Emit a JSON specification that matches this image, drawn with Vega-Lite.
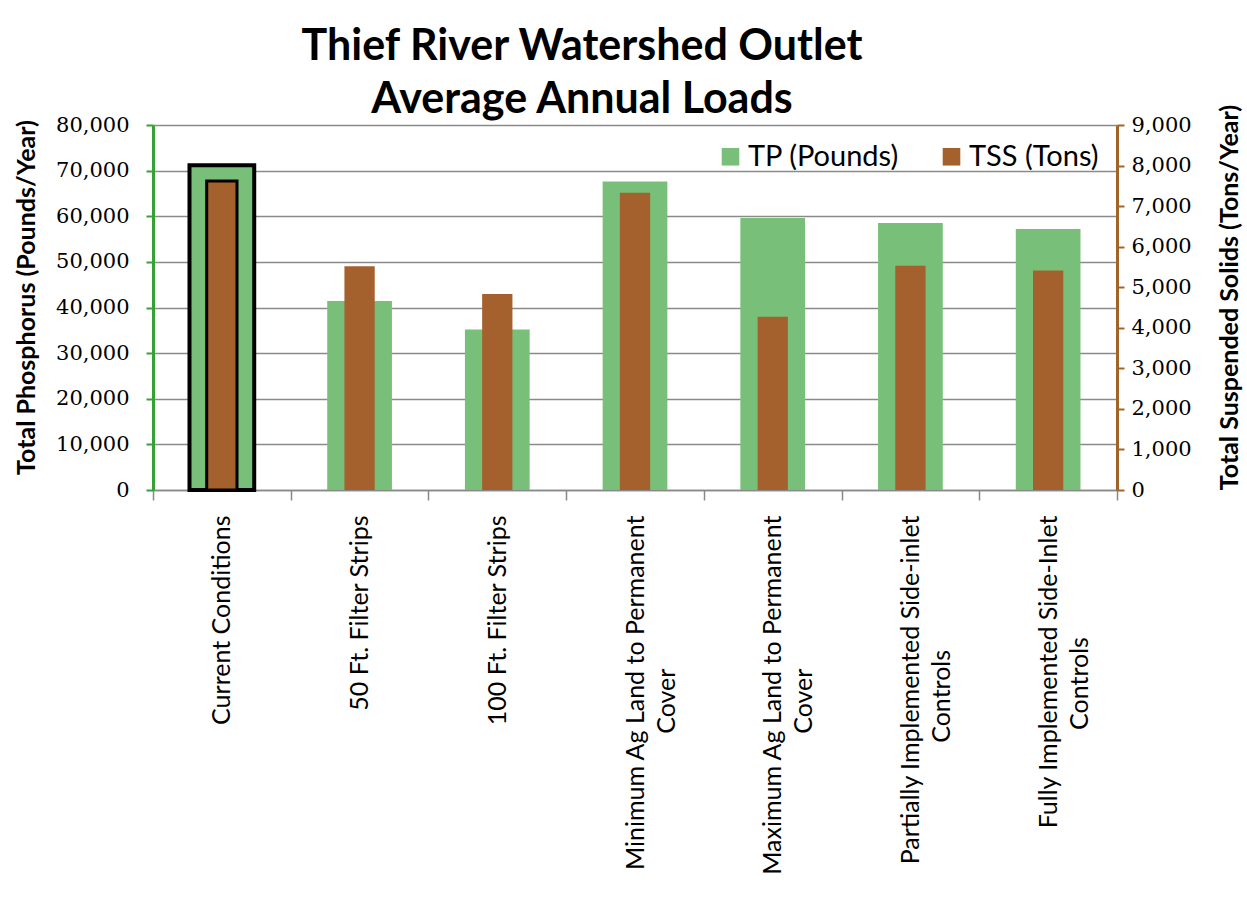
{
  "$schema": "https://vega.github.io/schema/vega-lite/v6.json",
  "width": 964,
  "height": 365,
  "autosize": {"type": "none"},
  "padding": {"left": 153, "top": 125, "right": 130, "bottom": 411},
  "background": "white",
  "title": {
    "text": ["Thief River Watershed Outlet", "Average Annual Loads"],
    "font": "Lato",
    "fontSize": 43,
    "fontWeight": "bold",
    "color": "black",
    "anchor": "middle",
    "frame": "group",
    "dx": -53,
    "lineHeight": 53,
    "offset": -18
  },
  "data": {
    "values": [
      {"Scenario": "Current Conditions", "TP": 71200, "TSS": 7620},
      {"Scenario": "50 Ft. Filter Strips", "TP": 41400, "TSS": 5520},
      {"Scenario": "100 Ft. Filter Strips", "TP": 35200, "TSS": 4830},
      {"Scenario": "Minimum Ag Land to Permanent Cover", "TP": 67600, "TSS": 7330},
      {"Scenario": "Maximum Ag Land to Permanent Cover", "TP": 59600, "TSS": 4270},
      {"Scenario": "Partially Implemented Side-inlet Controls", "TP": 58500, "TSS": 5530},
      {"Scenario": "Fully Implemented Side-Inlet Controls", "TP": 57200, "TSS": 5410}
    ]
  },
  "encoding": {
    "x": {
      "field": "Scenario",
      "type": "nominal",
      "sort": null,
      "scale": {"paddingInner": 0, "paddingOuter": 0},
      "axis": {
        "title": null,
        "labelAngle": -90,
        "labelFont": "Lato",
        "labelFontSize": 25,
        "labelLineHeight": 31,
        "labelColor": "black",
        "labelLimit": 0,
        "labelOverlap": false,
        "labelBaseline": "middle",
        "labelAlign": "right",
        "labelPadding": 15,
        "labelExpr": "length(datum.label) > 25 ? [slice(datum.label, 0, lastindexof(datum.label, ' ')), pad(slice(datum.label, lastindexof(datum.label, ' ') + 1), indexof(datum.label, 'Fully') == 0 ? 27 : 29, '\u00a0') + '\u200b'] : datum.label",
        "domainColor": "#888888",
        "domainWidth": 1.5,
        "tickColor": "#888888",
        "tickWidth": 1.5,
        "tickSize": 10,
        "tickBand": "extent"
      }
    }
  },
  "layer": [
    {
      "mark": {"type": "bar", "width": {"band": 0.47}, "strokeWidth": 4},
      "encoding": {
        "y": {
          "field": "TP",
          "type": "quantitative",
          "scale": {"domain": [0, 80000], "nice": false},
          "axis": {
            "orient": "left",
            "title": "Total Phosphorus (Pounds/Year)",
            "titleFont": "Lato",
            "titleFontSize": 25,
            "titleFontWeight": "bold",
            "titleColor": "black",
            "titlePadding": 16,
            "titleY": 172,
            "labelFont": "DejaVu Serif",
            "labelFontSize": 21,
            "labelColor": "black",
            "labelPadding": 17,
            "values": [0, 10000, 20000, 30000, 40000, 50000, 60000, 70000, 80000],
            "format": ",d",
            "domainColor": "#35a035",
            "domainWidth": 3,
            "tickColor": "#35a035",
            "tickWidth": 2,
            "tickSize": 7,
            "grid": true,
            "gridColor": "#8a8a8a",
            "gridWidth": 1.5
          }
        },
        "color": {
          "datum": "TP (Pounds)",
          "type": "nominal",
          "scale": {"domain": ["TP (Pounds)", "TSS (Tons)"], "range": ["#78c07a", "#a5612d"]},
          "legend": {
            "title": null,
            "orient": "none",
            "legendX": 563,
            "legendY": 17,
            "direction": "horizontal",
            "symbolType": "square",
            "symbolSize": 310,
            "symbolStrokeWidth": 0,
            "labelFont": "Lato",
            "labelFontSize": 29,
            "labelColor": "black",
            "labelOffset": 3,
            "columnPadding": 37
          }
        },
        "stroke": {"condition": {"test": "datum.Scenario === 'Current Conditions'", "value": "black"}, "value": "transparent"}
      }
    },
    {
      "mark": {"type": "bar", "width": {"band": 0.22}, "strokeWidth": 3},
      "encoding": {
        "y": {
          "field": "TSS",
          "type": "quantitative",
          "scale": {"domain": [0, 9000], "nice": false},
          "axis": {
            "orient": "right",
            "title": "Total Suspended Solids (Tons/Year)",
            "titleFont": "Lato",
            "titleFontSize": 25,
            "titleFontWeight": "bold",
            "titleColor": "black",
            "titleAngle": -90,
            "titleBaseline": "top",
            "titlePadding": 26,
            "titleY": 172,
            "labelFont": "DejaVu Serif",
            "labelFontSize": 21,
            "labelColor": "black",
            "labelPadding": 7,
            "values": [0, 1000, 2000, 3000, 4000, 5000, 6000, 7000, 8000, 9000],
            "format": ",d",
            "domainColor": "#a0642a",
            "domainWidth": 3,
            "tickColor": "#a0642a",
            "tickWidth": 2,
            "tickSize": 7,
            "grid": false
          }
        },
        "color": {"datum": "TSS (Tons)", "type": "nominal"},
        "stroke": {"condition": {"test": "datum.Scenario === 'Current Conditions'", "value": "black"}, "value": "transparent"}
      }
    }
  ],
  "resolve": {"scale": {"y": "independent"}},
  "config": {"view": {"stroke": null}}
}
